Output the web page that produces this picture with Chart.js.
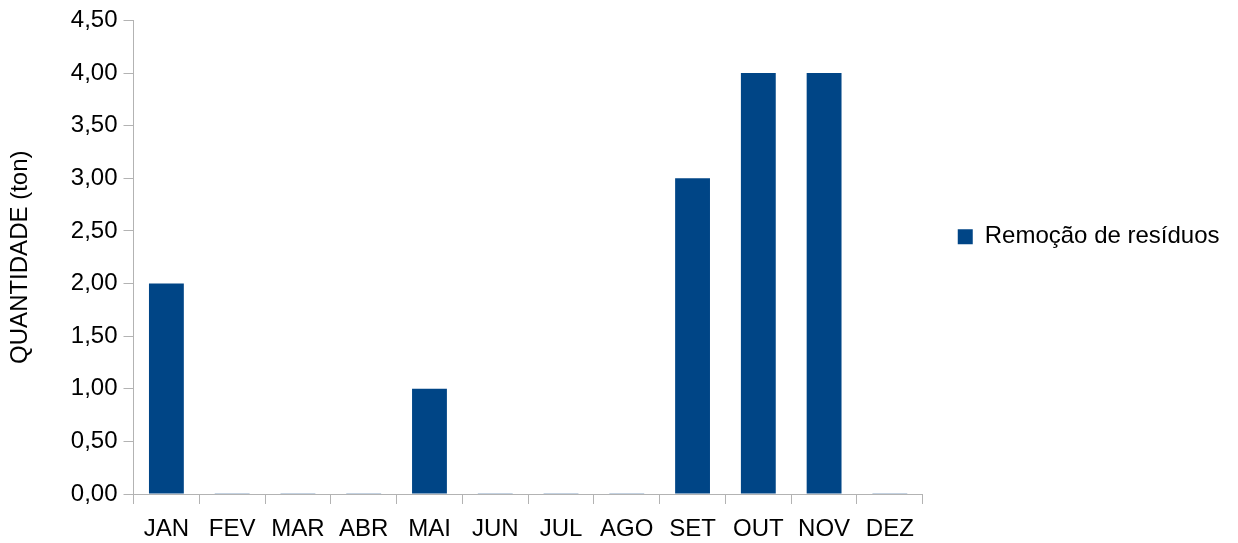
<!DOCTYPE html>
<html>
<head>
<meta charset="utf-8">
<style>
  html, body { margin: 0; padding: 0; background: #fff; }
  #wrap { width: 1238px; height: 543px; }
</style>
<script src="https://cdn.jsdelivr.net/npm/chart.js@4"></script>
</head>
<body>
<div id="wrap"><canvas id="chart" width="1238" height="543"></canvas></div>
<script>
const months = ["JAN", "FEV", "MAR", "ABR", "MAI", "JUN", "JUL", "AGO", "SET", "OUT", "NOV", "DEZ"];
const residuos = [2, 0, 0, 0, 1, 0, 0, 0, 3, 4, 4, 0];
const seriesLabel = "Remoção de resíduos";
const axisTitle = "QUANTIDADE (ton)";

const axisColor = "#b3b3b3";
const barColor = "#004586";
const zeroBarColor = "#8aa6c4"; // zero months show as a faint line on the axis

Chart.defaults.font.family = "'Liberation Sans', Arial, sans-serif";
Chart.defaults.color = "#000";

new Chart(document.getElementById("chart"), {
  type: "bar",
  data: {
    labels: months,
    datasets: [{
      label: seriesLabel,
      data: residuos,
      backgroundColor: (ctx) => (ctx.raw === 0 ? zeroBarColor : barColor),
      borderWidth: 0,
      minBarLength: 1,
      barPercentage: 0.53,
      categoryPercentage: 1.0,
    }],
  },
  options: {
    responsive: false,
    animation: false,
    layout: { padding: { top: 9, left: 4, right: 9, bottom: -11 } },
    plugins: {
      tooltip: { enabled: false },
      legend: {
        position: "right",
        align: "start",
        // empty title used as a spacer to push the single item down
        title: { display: true, text: "", font: { size: 24 }, padding: { top: 0, bottom: 152 } },
        labels: {
          font: { size: 24 },
          color: "#000",
          generateLabels: (chart) => [{
            text: seriesLabel,
            fillStyle: barColor,
            strokeStyle: barColor,
            lineWidth: 0,
            datasetIndex: 0,
          }],
          boxWidth: 15,
          boxHeight: 15,
          padding: 35,
        },
      },
    },
    scales: {
      x: {
        offset: true,
        grid: {
          offset: true,
          drawOnChartArea: false,
          color: axisColor,
          tickLength: 10,
        },
        border: { color: axisColor },
        ticks: { font: { size: 24, lineHeight: 1.0 }, padding: 13, maxRotation: 0 },
      },
      y: {
        min: 0,
        max: 4.5,
        grid: {
          drawOnChartArea: false,
          color: axisColor,
          tickLength: 10,
        },
        border: { color: axisColor },
        ticks: {
          stepSize: 0.5,
          font: { size: 24 },
          padding: 6,
          callback: (v) => v.toFixed(2).replace(".", ","),
        },
        title: {
          display: true,
          text: axisTitle,
          font: { size: 24 },
          padding: { top: 2, bottom: 30 },
        },
      },
    },
  },
});
</script>
</body>
</html>
